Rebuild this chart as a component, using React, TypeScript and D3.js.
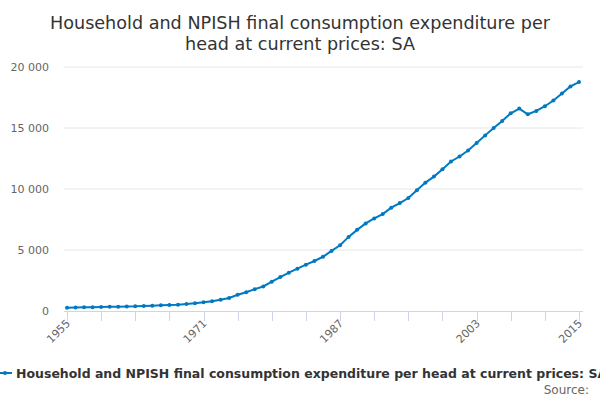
import React from "react";
import * as d3 from "d3";

const years: number[] = d3.range(1955, 2016);
const values: number[] = [
  273, 290, 300, 310, 328, 340, 355, 370, 382, 410,
  437, 464, 491, 519, 573, 628, 710, 792, 928, 1065,
  1330, 1535, 1790, 2010, 2400, 2785, 3140, 3470, 3800, 4100,
  4445, 4925, 5390, 6075, 6650, 7180, 7590, 7946, 8467, 8850,
  9258, 9890, 10522, 11016, 11621, 12253, 12665, 13159, 13763, 14395,
  15000, 15576, 16208, 16593, 16126, 16400, 16785, 17252, 17829, 18406,
  18763,
];
const yTicks: number[] = [0, 5000, 10000, 15000, 20000];
const xTickYears: number[] = d3.range(1955, 2016, 4);
const xLabelYears: number[] = [1955, 1971, 1987, 2003, 2015];
const titleLines: string[] = [
  "Household and NPISH final consumption expenditure per",
  "head at current prices: SA",
];
const seriesName = "Household and NPISH final consumption expenditure per head at current prices: SA";

const W = 600;
const H = 400;
const color = "#0079c2";
const font = "'DejaVu Sans', Verdana, sans-serif";

export default function App() {
  const x = d3.scaleLinear().domain([1955, 2015]).range([67, 579]);
  const y = d3.scaleLinear().domain([0, 20000]).range([311, 67]);
  const plotLeft = 64;
  const plotRight = 583;
  const pts = years.map((yr, i) => [yr, values[i]] as [number, number]);
  const line = d3
    .line<[number, number]>()
    .x((d) => x(d[0]))
    .y((d) => y(d[1]));
  const fmt = (v: number) => d3.format(",")(v).replace(/,/g, " ");

  return (
    <svg
      width={W}
      height={H}
      style={{ position: "absolute", left: 0, top: 0, fontFamily: font }}
    >
      <rect x={0} y={0} width={W} height={H} fill="#fff" />
      {titleLines.map((t, i) => (
        <text
          key={i}
          x={300}
          y={29 + i * 21}
          textAnchor="middle"
          fontSize={17.6}
          fill="#333"
        >
          {t}
        </text>
      ))}
      {yTicks.map((t) => (
        <g key={t}>
          {t > 0 && (
            <line
              x1={plotLeft}
              x2={plotRight}
              y1={y(t)}
              y2={y(t)}
              stroke="#e6e6e6"
              strokeWidth={1}
            />
          )}
          <text
            x={49}
            y={y(t) + 4}
            textAnchor="end"
            fontSize={11}
            fill="#666"
          >
            {fmt(t)}
          </text>
        </g>
      ))}
      <line
        x1={plotLeft}
        x2={plotRight}
        y1={311.5}
        y2={311.5}
        stroke="#ccd6eb"
        strokeWidth={1}
      />
      {xTickYears.map((yr) => (
        <line
          key={yr}
          x1={Math.round(x(yr)) + 0.5}
          x2={Math.round(x(yr)) + 0.5}
          y1={311}
          y2={321}
          stroke="#ccd6eb"
          strokeWidth={1}
        />
      ))}
      {xLabelYears.map((yr) => (
        <text
          key={yr}
          transform={`translate(${x(yr) + 4},${324}) rotate(-45)`}
          textAnchor="end"
          fontSize={11}
          fill="#666"
        >
          {yr}
        </text>
      ))}
      <path d={line(pts) || ""} fill="none" stroke={color} strokeWidth={2} />
      {pts.map((d, i) => (
        <circle key={i} cx={x(d[0])} cy={y(d[1])} r={2} fill={color} />
      ))}
      <line x1={0} x2={12} y1={373} y2={373} stroke={color} strokeWidth={2} />
      <circle cx={5} cy={373} r={2} fill={color} />
      <text x={16} y={377.5} fontSize={12.5} fontWeight="bold" fill="#333">
        {seriesName}
      </text>
      <text x={589} y={394} textAnchor="end" fontSize={12} fill="#666">
        Source:
      </text>
    </svg>
  );
}
